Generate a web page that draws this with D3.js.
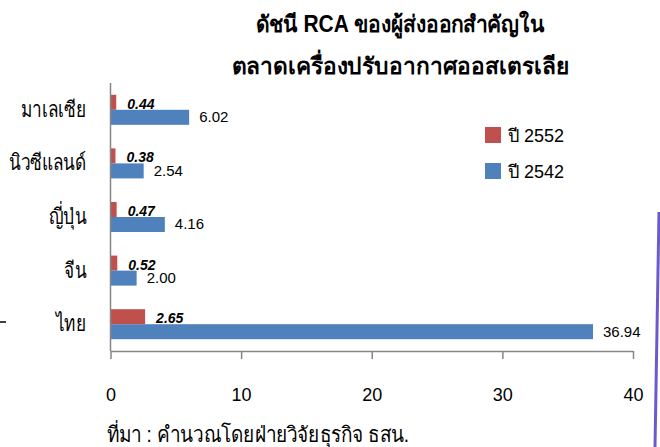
<!DOCTYPE html>
<html>
<head>
<meta charset="utf-8">
<script src="https://cdn.jsdelivr.net/npm/d3@7"></script>
<style>
  html, body { margin: 0; padding: 0; background: #fff; }
  svg { display: block; font-family: "Liberation Sans", Arial, sans-serif; }
</style>
</head>
<body>
<svg id="chart" width="660" height="447"></svg>
<script>
const categories = ['มาเลเซีย', 'นิวซีแลนด์', 'ญี่ปุ่น', 'จีน', 'ไทย'];
const series = ['ปี 2552', 'ปี 2542'];
const rca2552 = [0.44, 0.38, 0.47, 0.52, 2.65];
const rca2542 = [6.02, 2.54, 4.16, 2.00, 36.94];
const xTicks = [0, 10, 20, 30, 40];
const titleLines = ['ดัชนี RCA ของผู้ส่งออกสำคัญใน', 'ตลาดเครื่องปรับอากาศออสเตรเลีย'];
const sourceNote = 'ที่มา : คำนวณโดยฝ่ายวิจัยธุรกิจ ธสน.';

const COLORS = { 'ปี 2552': '#C0504D', 'ปี 2542': '#4F81BD' };

const svg = d3.select('#chart');

const x = d3.scaleLinear().domain([0, 40]).range([110.5, 633]);
const y0 = d3.scaleBand().domain(categories).range([83, 351])
  .paddingInner(0.44).paddingOuter(0.22);
const y1 = d3.scaleBand().domain(series).range([0, y0.bandwidth()]);

const rows = categories.map((c, i) => ({ c, vals: [rca2552[i], rca2542[i]] }));

// title
svg.append('g').selectAll('text')
  .data(titleLines)
  .join('text')
  .attr('transform', (d, i) => `translate(400,${32 + i * 42}) scale(${i ? 1.08 : 1},1.1)`)
  .attr('text-anchor', 'middle')
  .attr('font-size', 21)
  .attr('font-weight', 'bold')
  .attr('fill', '#000')
  .text(d => d);

// bars
const groups = svg.append('g').selectAll('g')
  .data(rows)
  .join('g')
  .attr('transform', d => `translate(0,${y0(d.c)})`);

groups.selectAll('rect')
  .data(d => d.vals.map((v, j) => ({ s: series[j], v })))
  .join('rect')
  .attr('x', x(0))
  .attr('y', d => y1(d.s))
  .attr('width', d => x(d.v) - x(0))
  .attr('height', y1.bandwidth())
  .attr('fill', d => COLORS[d.s]);

// value labels
groups.append('text')
  .attr('x', d => x(d.vals[0]) + 11)
  .attr('y', y1(series[0]) + y1.bandwidth() - 1)
  .attr('font-size', 14)
  .attr('font-weight', 'bold')
  .attr('font-style', 'italic')
  .text(d => d.vals[0].toFixed(2));

groups.append('text')
  .attr('x', d => x(d.vals[1]) + 10)
  .attr('y', y1(series[1]) + y1.bandwidth() / 2 + 5)
  .attr('font-size', 15)
  .text(d => d.vals[1].toFixed(2));

// category labels (source font is a narrow Thai face)
svg.append('g').selectAll('text')
  .data(categories)
  .join('text')
  .attr('transform', d => `translate(86,${y0(d) + y0.bandwidth() / 2 + 7}) scale(0.86,1.1)`)
  .attr('text-anchor', 'end')
  .attr('font-size', 20)
  .text(d => d);

// axes
const axisColor = '#868686';
svg.append('line')
  .attr('x1', x(0)).attr('x2', x(0))
  .attr('y1', 83).attr('y2', 351)
  .attr('stroke', axisColor).attr('stroke-width', 1.5);

const xAxis = svg.append('g').attr('transform', 'translate(0,351)')
  .call(d3.axisBottom(x).tickValues(xTicks).tickSize(8).tickPadding(29).tickSizeOuter(0));
xAxis.select('.domain').attr('stroke', axisColor).attr('stroke-width', 1.5);
xAxis.selectAll('.tick line').attr('stroke', axisColor).attr('stroke-width', 1.5);
xAxis.selectAll('.tick text')
  .attr('font-size', 18)
  .attr('font-family', '"Liberation Sans", Arial, sans-serif')
  .attr('fill', '#000');

// legend
const legend = svg.append('g').selectAll('g')
  .data(series)
  .join('g')
  .attr('transform', (d, i) => `translate(485,${127 + i * 36})`);
legend.append('rect')
  .attr('width', 16).attr('height', 16)
  .attr('fill', d => COLORS[d]);
legend.append('text')
  .attr('x', 23).attr('y', 15)
  .attr('font-size', 18)
  .text(d => d);

// source
svg.append('text')
  .attr('transform', 'translate(107,442) scale(1,1.15)')
  .attr('font-size', 19)
  .text(sourceNote);

// slide edge remnants
svg.append('line')
  .attr('x1', 659).attr('y1', 212).attr('x2', 655).attr('y2', 447)
  .attr('stroke', '#6a5acd').attr('stroke-width', 3);
svg.append('line')
  .attr('x1', 0).attr('y1', 322).attr('x2', 6).attr('y2', 322)
  .attr('stroke', '#000').attr('stroke-width', 1.5);
</script>
</body>
</html>
